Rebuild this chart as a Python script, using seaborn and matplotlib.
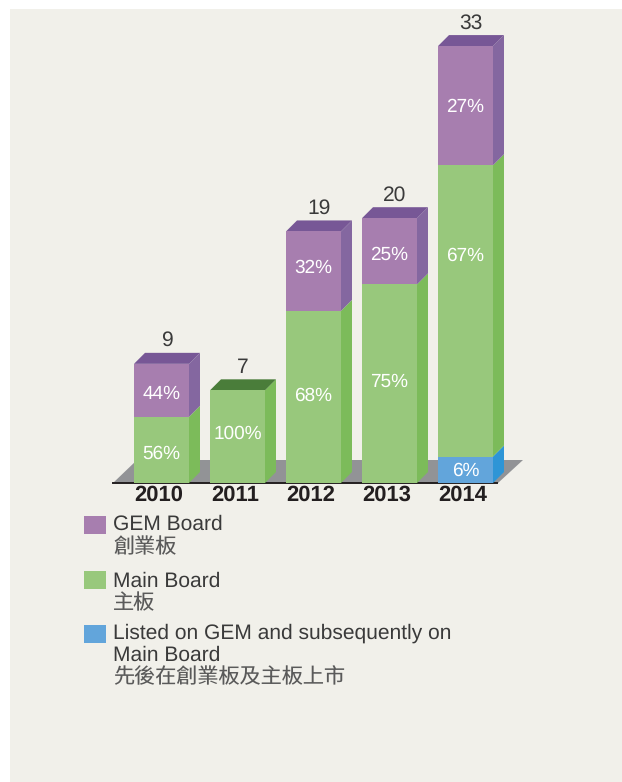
import matplotlib
matplotlib.use("Agg")
import matplotlib.pyplot as plt
from matplotlib.patches import Polygon, Rectangle
from matplotlib.transforms import Affine2D, ScaledTranslation
import seaborn as sns

# New listings per year, by board
years = ["2010", "2011", "2012", "2013", "2014"]
transfer = [0, 0, 0, 0, 2]
main_board = [5, 7, 13, 15, 22]
gem_board = [4, 0, 6, 5, 9]

FRONT = {"transfer": "#62A5DB", "main": "#98C87C", "gem": "#A77EAF"}
SIDE = {"transfer": "#2E95D6", "main": "#7CBB5A", "gem": "#8467A0"}
TOP = {"main": "#4A7D3A", "gem": "#775796"}
PANEL = "#F1F0EA"
TEXT = "#3A3A3A"
LATIN = ["Liberation Sans", "Noto Sans CJK TC"]

W, H = 622, 782
sns.set_theme(style="white")
plt.rcParams["font.family"] = LATIN
plt.rcParams["text.hinting"] = "no_hinting"
plt.rcParams["text.hinting_factor"] = 1

fig = plt.figure(figsize=(W / 100, H / 100), dpi=100, facecolor="white")
fig.patches.append(Rectangle((10 / W, 0), 1, 1 - 9 / H, transform=fig.transFigure,
                             facecolor=PANEL, edgecolor="none", zorder=-5))

# Plot frame: the x axis line runs along the front edge of the floor
PX_PER_COUNT = 13.24
PX_PER_CAT = 76.0
left, right, base, top = 113, 497, 483, 10
ax = fig.add_axes([left / W, 1 - base / H, (right - left) / W, (base - top) / H])
ax.patch.set_alpha(0)

series = [("transfer", transfer), ("main", main_board), ("gem", gem_board)]
bottoms = [0] * len(years)
segments = []
for name, values in series:
    sns.barplot(x=years, y=values, bottom=bottoms, order=years, color=FRONT[name],
                saturation=1, width=55 / PX_PER_CAT, linewidth=0, ax=ax, zorder=3)
    for bar, v in zip(ax.containers[-1], values):
        segments.append((name, bar, v))
    bottoms = [b + v for b, v in zip(bottoms, values)]
totals = bottoms

ax.set_xlim((left - 161.5) / PX_PER_CAT, (right - 161.5) / PX_PER_CAT)
ax.set_ylim(0, (base - top) / PX_PER_COUNT)

# Depth of the extruded bars, in data units
dx = 11 / PX_PER_CAT
dy = 11 / PX_PER_COUNT

# Floor slab under the columns
floor_back = 23 / PX_PER_COUNT
x0, x1 = ax.get_xlim()
ax.add_patch(Polygon([(x0, 0), (x0 + 24 / PX_PER_CAT, floor_back),
                      (x1 + 26 / PX_PER_CAT, floor_back), (x1 + 1 / PX_PER_CAT, 0)],
                     closed=True, facecolor="#929396", edgecolor="none", zorder=0.5, clip_on=False))

# Side and top faces of each column
for name, bar, v in segments:
    if v == 0:
        continue
    bx, by = bar.get_x(), bar.get_y()
    bw, bh = bar.get_width(), bar.get_height()
    rx = bx + bw
    ax.add_patch(Polygon([(rx, by), (rx + dx, by + dy), (rx + dx, by + bh + dy), (rx, by + bh)],
                         closed=True, facecolor=SIDE[name], edgecolor="none", zorder=2.5, clip_on=False))
top_faces = {}
for name, bar, v in segments:
    if v > 0:
        top_faces[bar.get_x()] = (name, bar)
for name, bar in top_faces.values():
    bx, bw = bar.get_x(), bar.get_width()
    yt = bar.get_y() + bar.get_height()
    ax.add_patch(Polygon([(bx, yt), (bx + dx, yt + dy), (bx + bw + dx, yt + dy), (bx + bw, yt)],
                         closed=True, facecolor=TOP[name], edgecolor="none", zorder=2.5, clip_on=False))

# Vertical nudges for the share labels, in pixels
nudges = {("gem", 0): -4, ("main", 0): -4, ("main", 1): 3, ("main", 2): 1, ("gem", 2): 3,
          ("main", 3): 2, ("gem", 3): -4, ("main", 4): 55, ("gem", 4): -1, ("transfer", 4): -1}
for i, (name, values) in enumerate(series):
    for j, v in enumerate(values):
        if v == 0:
            continue
        y0 = sum(s[1][j] for s in series[:i])
        ax.annotate(f"{round(100 * v / totals[j])}%", (j, y0 + v / 2),
                    xytext=(0, nudges.get((name, j), 0)), textcoords="offset pixels",
                    ha="center", va="center", color="white", fontsize=14, zorder=5)

# Column totals above the top faces
for j, t in enumerate(totals):
    ax.annotate(str(t), (j + dx / 2, t + dy), xytext=(0, 12), textcoords="offset pixels",
                ha="center", va="center", color=TEXT, fontsize=15, zorder=5)

for s in ("left", "right", "top"):
    ax.spines[s].set_visible(False)
ax.spines["bottom"].set_color("#231F20")
ax.spines["bottom"].set_linewidth(1.4)
ax.spines["bottom"].set_zorder(1)
ax.set_yticks([])
ax.set_xlabel("")
ax.set_ylabel("")
ax.tick_params(axis="x", length=0, pad=1.4)
ax.set_xticks(range(len(years)), years, fontsize=15.8, fontweight="bold", color="#231F20")
# Year labels sit slightly left of the column centres
shift = ScaledTranslation(-2.5 / 100, 0, fig.dpi_scale_trans)
for tick_label in ax.get_xticklabels():
    tick_label.set_transform(tick_label.get_transform() + shift)

# Key below the chart, laid out in pixel coordinates from the top-left corner
px = Affine2D().scale(1 / W, -1 / H).translate(0, 1) + fig.transFigure
key = [("gem", 516, [("GEM Board", 524), ("創業板", 548)]),
       ("main", 571, [("Main Board", 581), ("主板", 604)]),
       ("transfer", 625, [("Listed on GEM and subsequently on", 633), ("Main Board", 655),
                          ("先後在創業板及主板上市", 678)])]
for name, y, lines in key:
    fig.patches.append(Rectangle((84, y), 22, 18, transform=px, facecolor=FRONT[name], edgecolor="none"))
    for label, ty in lines:
        cjk = ord(label[0]) > 255
        fig.text(113, ty, label, transform=px, ha="left", va="center",
                 color="#5A5A5A" if cjk else TEXT, fontsize=15.2 if cjk else 14.8)

fig.savefig("out.png", dpi=100, facecolor="white")
